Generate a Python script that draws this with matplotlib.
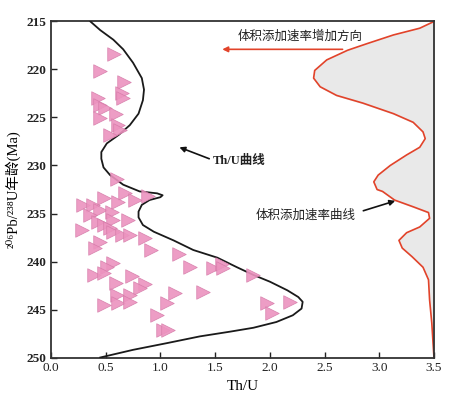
import matplotlib
matplotlib.use('Agg')
import matplotlib.pyplot as plt

plt.rcParams['font.family'] = ['Liberation Serif', 'DejaVu Serif', 'Noto Sans CJK SC']

# Th/U of zircon grains vs 206Pb/238U age
thu = [0.58, 0.45, 0.67, 0.65, 0.66, 0.43, 0.45, 0.49, 0.45, 0.59, 0.61, 0.63, 0.54,
       0.60, 0.68, 0.77, 0.89, 0.48, 0.61, 0.29, 0.38, 0.45, 0.56, 0.36, 0.57, 0.43,
       0.48, 0.70, 0.28, 0.54, 0.57, 0.65, 0.72, 0.86, 0.45, 0.40, 0.91,
       1.17, 0.57, 0.51, 1.27, 1.48, 1.56, 1.57, 0.39, 0.48, 0.74, 1.85, 0.59, 0.86,
       0.81, 1.13, 1.39, 0.60, 0.72, 0.61, 0.72, 0.48, 1.06, 1.97, 2.18, 2.02, 0.97,
       1.02, 1.07]
age = [218.4, 220.2, 221.3, 222.5, 223.0, 223.0, 223.7, 224.0, 225.1, 224.6, 225.8, 226.3, 226.8,
       231.4, 232.9, 233.6, 233.2, 233.4, 233.8, 234.1, 234.1, 234.6, 234.8, 235.2, 235.7, 235.9,
       236.2, 235.7, 236.7, 236.5, 236.9, 237.2, 237.2, 237.5, 238.0, 238.6, 238.8,
       239.2, 240.2, 240.6, 240.6, 240.7, 240.3, 240.7, 241.4, 241.2, 241.5, 241.4, 242.2, 242.3,
       242.8, 243.3, 243.2, 243.5, 243.5, 244.3, 244.2, 244.5, 244.3, 244.3, 244.2, 245.4, 245.6,
       247.1, 247.1]

# Th/U curve
curve_x = [0.36, 0.45, 0.57, 0.66, 0.75, 0.83, 0.85, 0.84, 0.80, 0.72, 0.62, 0.51, 0.46, 0.46,
           0.48, 0.54, 0.66, 0.81, 0.97, 1.02, 1.00, 0.90, 0.83, 0.80, 0.80, 0.84, 0.94, 1.12,
           1.30, 1.52, 1.70, 1.85, 2.00, 2.16, 2.26, 2.30, 2.29, 2.21, 2.06, 1.85, 1.64, 1.36,
           1.06, 0.75, 0.45]
curve_y = [215.0, 215.9, 216.9, 217.9, 219.3, 220.9, 222.1, 223.2, 224.6, 225.8, 226.8, 227.7,
           228.6, 229.3, 230.2, 231.0, 232.0, 232.7, 232.9, 233.1, 233.3, 233.6, 234.1, 234.8,
           235.4, 236.2, 236.9, 237.8, 238.8, 239.6, 240.6, 241.4, 242.1, 243.0, 243.7, 244.2,
           244.9, 245.6, 246.3, 246.9, 247.3, 247.8, 248.5, 249.2, 250.0]

# volume addition rate curve
rate_x = [3.50, 3.37, 3.13, 2.89, 2.71, 2.52, 2.41, 2.40, 2.46, 2.61, 2.85, 3.13, 3.31, 3.40,
          3.42, 3.37, 3.25, 3.10, 2.99, 2.95, 2.98, 3.03, 3.14, 3.31, 3.45, 3.46, 3.37, 3.25,
          3.18, 3.21, 3.30, 3.40, 3.45, 3.46, 3.48, 3.50]
rate_y = [215.0, 215.7, 216.4, 217.3, 218.0, 219.0, 220.1, 220.9, 221.8, 222.7, 223.5, 224.6,
          225.5, 226.5, 227.2, 228.1, 228.9, 230.0, 231.0, 231.7, 232.5, 232.7, 233.6, 234.3,
          234.9, 235.5, 236.4, 237.0, 237.8, 238.6, 239.5, 240.6, 241.9, 244.0, 246.4, 250.0]

fig = plt.figure(figsize=(4.57, 3.95), dpi=100)
ax = fig.add_axes([0.1116, 0.0949, 0.838, 0.8507])

ax.fill_betweenx(rate_y, rate_x, 3.5, color='#E9E9E9', zorder=1)
ax.plot(rate_x, rate_y, color='#E2432A', lw=1.2, zorder=2)
ax.plot(curve_x, curve_y, color='#1A1A1A', lw=1.3, zorder=3)
ax.scatter(thu, age, marker='>', s=95, color='#EC93BF', edgecolors='#D57AA8',
           linewidths=0.5, alpha=0.9, zorder=4)

ax.set_xlim(0, 3.5)
ax.set_ylim(250, 215)
ax.set_xticks([0.0, 0.5, 1.0, 1.5, 2.0, 2.5, 3.0, 3.5])
ax.set_xticklabels(['0.0', '0.5', '1.0', '1.5', '2.0', '2.5', '3.0', '3.5'])
ax.set_yticks([215, 220, 225, 230, 235, 240, 245, 250])
ax.tick_params(direction='in', length=4, width=1, colors='#222222', labelsize=9.5)
for lab in ax.get_yticklabels():
    lab.set_fontweight('bold')
for sp in ax.spines.values():
    sp.set_color('#333333')
    sp.set_linewidth(1.3)

ax.set_xlabel('Th/U', fontsize=11, labelpad=4)
ax.set_ylabel('²⁰⁶Pb/²³⁸U年龄(Ma)', fontsize=10.5, labelpad=4)

# annotations
ax.text(2.28, 216.6, '体积添加速率增加方向', fontsize=9, ha='center', va='center',
        color='#222222')
ax.annotate('', xy=(1.54, 217.9), xytext=(2.69, 217.9),
            arrowprops=dict(arrowstyle='-|>', color='#E2432A', lw=1.2, mutation_scale=8))
ax.text(1.48, 229.5, 'Th/U曲线', fontsize=9, ha='left', va='center', fontweight='bold',
        color='#222222')
ax.annotate('', xy=(1.15, 228.0), xytext=(1.47, 229.4),
            arrowprops=dict(arrowstyle='-|>', color='#111111', lw=1.2, mutation_scale=8))
ax.text(2.33, 235.2, '体积添加速率曲线', fontsize=9, ha='center', va='center',
        color='#222222')
ax.annotate('', xy=(3.17, 233.6), xytext=(2.83, 234.8),
            arrowprops=dict(arrowstyle='-|>', color='#111111', lw=1.2, mutation_scale=8))

fig.savefig('out.png', dpi=100, facecolor='white')
